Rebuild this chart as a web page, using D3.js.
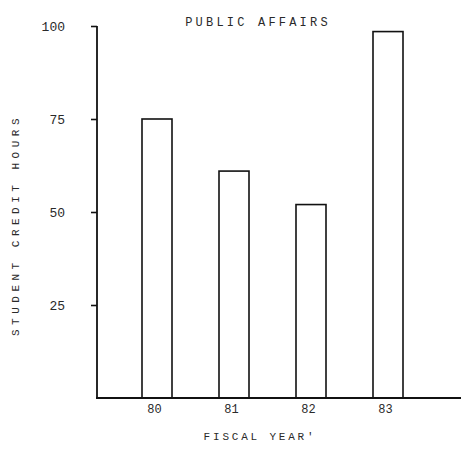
<!DOCTYPE html>
<html>
  <head>
    <meta charset="utf-8">
    <script src="https://d3js.org/d3.v7.min.js"></script>
    <style>
      body { margin: 0; background: #fff; }
      text { font-family: "Liberation Mono", "DejaVu Sans Mono", monospace; fill: #2a2a2a; }
    </style>
  </head>
<body>
  <script type="text/javascript">
    // values
    var years = ["80", "81", "82", "83"];
    var hours = [75, 61, 52, 98.5];
    var yTicks = [25, 50, 75, 100];

    var width = 461,
        height = 450;

    var svg = d3.select("body")
        .append("svg")
          .attr("width", width)
          .attr("height", height);

    var x = d3.scalePoint()
        .domain(years)
        .range([157, 388]);

    var y = d3.scaleLinear()
        .domain([0, 100])
        .range([398, 26]);

    var barW = 30;

    // bars, open rectangles
    svg.selectAll("rect.bar")
        .data(years)
        .enter()
        .append("rect")
          .attr("class", "bar")
          .attr("x", function (d) { return x(d) - barW / 2; })
          .attr("y", function (d, i) { return y(hours[i]); })
          .attr("width", barW)
          .attr("height", function (d, i) { return y(0) - y(hours[i]); })
          .attr("fill", "white")
          .attr("stroke", "#111")
          .attr("stroke-width", 1.6);

    // y axis
    var yAxis = svg.append("g")
        .attr("transform", "translate(97,0)")
        .call(d3.axisLeft(y).tickValues(yTicks).tickSize(6).tickPadding(26));
    yAxis.select(".domain").attr("stroke", "#111").attr("stroke-width", 1.8)
        .attr("d", "M0," + y(100) + "V" + y(0));
    yAxis.selectAll(".tick line").attr("stroke", "#111").attr("stroke-width", 1.6);
    yAxis.selectAll(".tick text")
        .attr("font-size", 13)
        .style("font-family", "Liberation Mono, monospace")
        .attr("fill", "#333");

    // x axis
    var xAxis = svg.append("g")
        .attr("transform", "translate(0," + y(0) + ")")
        .call(d3.axisBottom(x).tickSize(0).tickPadding(6));
    xAxis.select(".domain").attr("stroke", "#111").attr("stroke-width", 1.8)
        .attr("d", "M96,0H461");
    xAxis.selectAll(".tick text")
        .attr("font-size", 12)
        .attr("dx", -3)
        .style("font-family", "Liberation Mono, monospace")
        .attr("fill", "#333");

    // titles
    svg.append("text")
        .attr("x", 258)
        .attr("y", 26)
        .attr("text-anchor", "middle")
        .attr("font-size", 12)
        .attr("letter-spacing", 3.2)
        .attr("fill", "#222")
        .text("PUBLIC AFFAIRS");

    svg.append("text")
        .attr("x", 260)
        .attr("y", 440)
        .attr("text-anchor", "middle")
        .attr("font-size", 11)
        .attr("letter-spacing", 2.8)
        .attr("fill", "#444")
        .text("FISCAL YEAR'");

    svg.append("text")
        .attr("transform", "translate(19,225) rotate(-90)")
        .attr("text-anchor", "middle")
        .attr("font-size", 11)
        .attr("letter-spacing", 4.5)
        .attr("fill", "#555")
        .text("STUDENT CREDIT HOURS");
  </script>
</body>
</html>
